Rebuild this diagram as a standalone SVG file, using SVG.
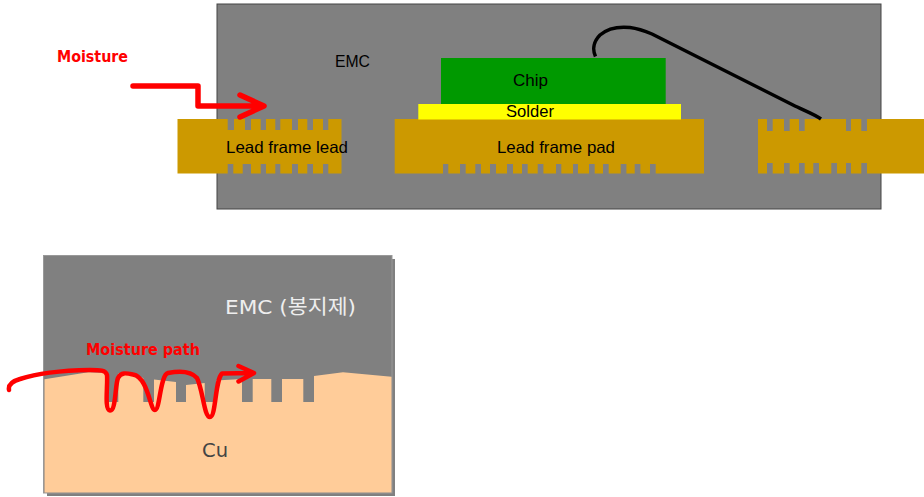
<svg xmlns="http://www.w3.org/2000/svg" width="924" height="497" viewBox="0 0 924 497">
<style>
.t{font-family:"Liberation Sans",Arial,sans-serif;font-size:16.500px;fill:#000}
.m{font-family:"DejaVu Sans",sans-serif;font-weight:bold;font-size:15.500px;fill:#f00}
.k{font-family:"DejaVu Sans","Noto Sans CJK KR",sans-serif;font-size:20px}
.gold{fill:#cc9900}
.notch{fill:#808080}
.red{fill:none;stroke:#f00;stroke-linecap:round;stroke-linejoin:round}
</style>
<rect width="924" height="497" fill="#fff"/>
<g id="package"><rect x="217" y="4" width="664" height="205" fill="#808080" stroke="#444" stroke-width="1"/></g>
<g id="emc-label"><text class="t" x="335" y="67" textLength="35" lengthAdjust="spacingAndGlyphs">EMC</text></g>
<g id="lead-left">
<rect class="gold" x="177.500" y="119" width="164" height="54.500"/>
<path class="notch" d="M227.700 119h6.300v11h-6.300zM245 119h6v11h-6zM260.700 119h5.300v11h-5.300zM275.300 119h5v11h-5zM292 119h6v11h-6zM307.300 119h5.700v11h-5.700zM323 119h5.300v11h-5.300zM227.700 164h5.600v10h-5.600zM242.700 164h8.300v10h-8.300zM260.700 164h5.300v10h-5.300zM275.300 164h5v10h-5zM292 164h6v10h-6zM307.300 164h5.700v10h-5.700zM323 164h5.300v10h-5.300z"/>
<text class="t" x="226" y="153" textLength="122" lengthAdjust="spacingAndGlyphs">Lead frame lead</text>
</g>
<g id="lead-pad">
<rect class="gold" x="394.700" y="119" width="309.300" height="54.500"/>
<path class="notch" d="M443 164h5.300v10h-5.300zM460 164h5.700v10h-5.700zM475.300 164h5.700v10h-5.700zM490 164h6v10h-6zM507 164h6v10h-6zM522 164h5.700v10h-5.700zM537.700 164h5.700v10h-5.700zM556 164h5.300v10h-5.300zM573 164h5v10h-5zM589 164h5.700v10h-5.700zM603 164h5.700v10h-5.700zM620.700 164h5.700v10h-5.700zM634.700 164h5.700v10h-5.700zM650 164h5.700v10h-5.700z"/>
<text class="t" x="497" y="153" textLength="118" lengthAdjust="spacingAndGlyphs">Lead frame pad</text>
</g>
<g id="solder"><rect x="418.300" y="104" width="262.700" height="15.500" fill="#ff0"/><text class="t" x="506" y="117" textLength="48" lengthAdjust="spacingAndGlyphs">Solder</text></g>
<g id="chip"><rect x="441" y="58" width="224.700" height="46" fill="#009900"/><text class="t" x="513" y="86" textLength="35" lengthAdjust="spacingAndGlyphs">Chip</text></g>
<g id="lead-right">
<rect class="gold" x="758" y="119" width="166" height="54.500"/>
<path class="notch" d="M767 119h5.700v12h-5.700zM784 119h5.700v12h-5.700zM799 119h5.700v12h-5.700zM846 119h5v12h-5zM861.300 119h5.700v12h-5.700zM767 163h5.700v11h-5.700zM784 163h5.700v11h-5.700zM799 163h5.700v11h-5.700zM813.300 163h5.700v11h-5.700zM831.300 163h5.700v11h-5.700zM846 163h5v11h-5zM861.300 163h5.700v11h-5.700z"/>
</g>
<g id="connectors">
<path id="wire" d="M595.500 56.500C592 49 594 41 600 35C608 28 620 26.500 630 27.500C638 28.500 645 31 652 34L793 105C803 110 814 114 821 119" fill="none" stroke="#000" stroke-width="3.500"/>
<path id="moisture-arrow" class="red" stroke-width="5.500" d="M133 86H198V106H263M240 95L264 106L240 117"/>
</g>
<g id="moisture-label"><text class="m" x="57" y="61.500" textLength="71" lengthAdjust="spacingAndGlyphs">Moisture</text></g>
<g id="cross-section">
<rect x="47" y="259" width="348" height="237" fill="#808080"/>
<rect x="43.500" y="255.500" width="348.500" height="237.500" fill="#808080" stroke="#999" stroke-width="1"/>
<path id="cu" fill="#ffcc99" d="M44.500 379.300L88.300 372.300L106.700 373V402H118.300V373.500L133 375L143.300 378V402H154V379.500L176 382V402H186V385L204.700 383V402H216V380.500L242 379V402H252.700V379H271.300V402H282V379H303.300V402H314V376L343 372.300L391.500 376.700V492.500H44.500Z"/>
<text class="k" x="225" y="314" fill="#eee" textLength="131" lengthAdjust="spacingAndGlyphs">EMC (봉지제)</text>
<text class="k" x="202" y="457" fill="#444" textLength="26" lengthAdjust="spacingAndGlyphs">Cu</text>
<text class="m" x="86" y="355" textLength="114" lengthAdjust="spacingAndGlyphs">Moisture path</text>
</g>
<g id="moisture-path-arrow"><path class="red" stroke-width="4.500" d="M9 390C8 384 13 381 20 379C35 374 60 370.500 90 370C100 370 106 370 107 375C108 385 104 410 110 410.500C116 411 115 385 118 378C121 372 126 373 133 374.500C148 377 150 410 155 410C160 410 160 375 168 373C178 371 190 370 197 378C203 390 204 417 210 417C216 417 215 380 222 373.500L253 373M238.500 366L254 373L238.500 381.500"/></g>
</svg>
